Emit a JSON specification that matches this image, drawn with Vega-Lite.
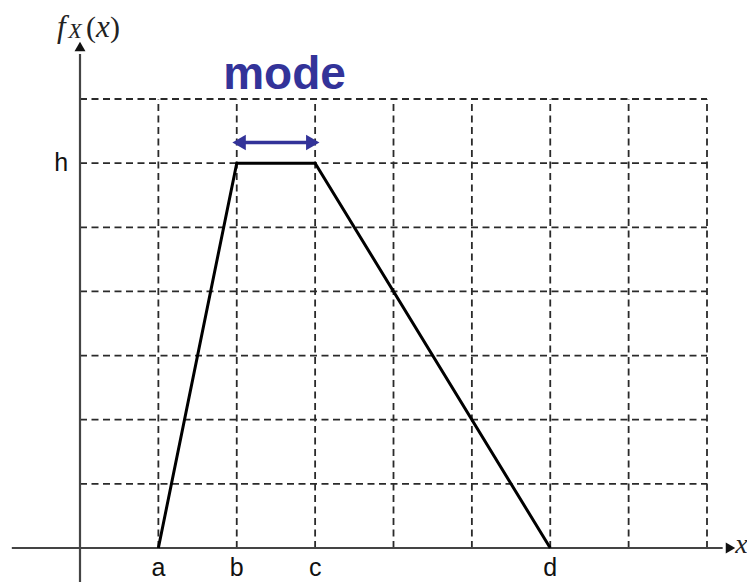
{
  "$schema": "https://vega.github.io/schema/vega-lite/v6.json",
  "width": 627,
  "height": 449,
  "autosize": {"type": "none"},
  "padding": {"left": 80, "top": 99, "right": 40, "bottom": 34},
  "background": "white",
  "config": {"view": {"stroke": null}},
  "datasets": {
    "grid": [
      {"x1": 1, "x2": 1, "y1": 0, "y2": 7},
      {"x1": 2, "x2": 2, "y1": 0, "y2": 7},
      {"x1": 3, "x2": 3, "y1": 0, "y2": 7},
      {"x1": 4, "x2": 4, "y1": 0, "y2": 7},
      {"x1": 5, "x2": 5, "y1": 0, "y2": 7},
      {"x1": 6, "x2": 6, "y1": 0, "y2": 7},
      {"x1": 7, "x2": 7, "y1": 0, "y2": 7},
      {"x1": 8, "x2": 8, "y1": 0, "y2": 7},
      {"x1": 0, "x2": 8, "y1": 1, "y2": 1},
      {"x1": 0, "x2": 8, "y1": 2, "y2": 2},
      {"x1": 0, "x2": 8, "y1": 3, "y2": 3},
      {"x1": 0, "x2": 8, "y1": 4, "y2": 4},
      {"x1": 0, "x2": 8, "y1": 5, "y2": 5},
      {"x1": 0, "x2": 8, "y1": 6, "y2": 6},
      {"x1": 0, "x2": 8, "y1": 7, "y2": 7}
    ],
    "axes": [
      {"x1": -0.87, "x2": 8.2, "y1": 0, "y2": 0},
      {"x1": 0, "x2": 0, "y1": -0.53, "y2": 7.7}
    ],
    "arrowheads": [
      {"x": 8.3, "y": 0, "shape": "triangle-right"},
      {"x": 0, "y": 7.82, "shape": "triangle-up"}
    ],
    "pdf": [
      {"x": 1, "y": 0},
      {"x": 2, "y": 6},
      {"x": 3, "y": 6},
      {"x": 6, "y": 0}
    ],
    "modeline": [
      {"x1": 2.0, "x2": 3.0, "y1": 6.32, "y2": 6.32}
    ],
    "modeheads": [
      {"x": 2.03, "y": 6.32, "shape": "triangle-left"},
      {"x": 2.97, "y": 6.32, "shape": "triangle-right"}
    ],
    "ticks": [
      {"x": 1, "label": "a"},
      {"x": 2, "label": "b"},
      {"x": 3, "label": "c"},
      {"x": 6, "label": "d"}
    ],
    "ylabelItalic": [
      {"x": -0.293, "y": 7.97, "t": "f"},
      {"x": 0.204, "y": 7.97, "t": "x"}
    ],
    "ylabelUpright": [
      {"x": 0.077, "y": 7.97, "t": "("},
      {"x": 0.383, "y": 7.97, "t": ")"}
    ]
  },
  "layer": [
    {
      "data": {"name": "grid"},
      "mark": {"type": "rule", "stroke": "#2a2a2a", "strokeWidth": 1.8, "strokeDash": [7, 4.5]},
      "encoding": {
        "x": {"field": "x1", "type": "quantitative", "scale": {"domain": [0, 8], "nice": false, "zero": false}, "axis": null},
        "x2": {"field": "x2"},
        "y": {"field": "y1", "type": "quantitative", "scale": {"domain": [0, 7], "nice": false, "zero": false}, "axis": null},
        "y2": {"field": "y2"}
      }
    },
    {
      "data": {"name": "axes"},
      "mark": {"type": "rule", "stroke": "#444444", "strokeWidth": 2.2},
      "encoding": {
        "x": {"field": "x1", "type": "quantitative", "axis": null},
        "x2": {"field": "x2"},
        "y": {"field": "y1", "type": "quantitative", "axis": null},
        "y2": {"field": "y2"}
      }
    },
    {
      "data": {"name": "arrowheads"},
      "mark": {"type": "point", "filled": true, "fill": "#111111", "size": 120, "opacity": 1},
      "encoding": {
        "x": {"field": "x", "type": "quantitative", "axis": null},
        "y": {"field": "y", "type": "quantitative", "axis": null},
        "shape": {"field": "shape", "type": "nominal", "scale": null, "legend": null}
      }
    },
    {
      "data": {"name": "pdf"},
      "mark": {"type": "line", "stroke": "#000000", "strokeWidth": 3},
      "encoding": {
        "x": {"field": "x", "type": "quantitative", "axis": null},
        "y": {"field": "y", "type": "quantitative", "axis": null}
      }
    },
    {
      "data": {"name": "modeline"},
      "mark": {"type": "rule", "stroke": "#333399", "strokeWidth": 3.5},
      "encoding": {
        "x": {"field": "x1", "type": "quantitative", "axis": null},
        "x2": {"field": "x2"},
        "y": {"field": "y1", "type": "quantitative", "axis": null}
      }
    },
    {
      "data": {"name": "modeheads"},
      "mark": {"type": "point", "filled": true, "fill": "#333399", "size": 240, "opacity": 1},
      "encoding": {
        "x": {"field": "x", "type": "quantitative", "axis": null},
        "y": {"field": "y", "type": "quantitative", "axis": null},
        "shape": {"field": "shape", "type": "nominal", "scale": null, "legend": null}
      }
    },
    {
      "data": {"values": [{"x": 2.61, "y": 7.16, "t": "mode"}]},
      "mark": {"type": "text", "font": "Liberation Sans", "fontWeight": "bold", "fontSize": 46, "fill": "#333399", "align": "center", "baseline": "alphabetic"},
      "encoding": {
        "x": {"field": "x", "type": "quantitative", "axis": null},
        "y": {"field": "y", "type": "quantitative", "axis": null},
        "text": {"field": "t"}
      }
    },
    {
      "data": {"name": "ticks"},
      "mark": {"type": "text", "font": "Liberation Sans", "fontSize": 25, "fill": "#111111", "align": "center", "baseline": "top", "dy": 8},
      "encoding": {
        "x": {"field": "x", "type": "quantitative", "axis": null},
        "y": {"datum": 0, "type": "quantitative", "axis": null},
        "text": {"field": "label"}
      }
    },
    {
      "data": {"values": [{"x": -0.15, "y": 6, "t": "h"}]},
      "mark": {"type": "text", "font": "Liberation Sans", "fontSize": 25, "fill": "#111111", "align": "right", "baseline": "middle"},
      "encoding": {
        "x": {"field": "x", "type": "quantitative", "axis": null},
        "y": {"field": "y", "type": "quantitative", "axis": null},
        "text": {"field": "t"}
      }
    },
    {
      "data": {"name": "ylabelItalic"},
      "mark": {"type": "text", "font": "Liberation Serif", "fontStyle": "italic", "fontSize": 31, "fill": "#222222", "align": "left", "baseline": "alphabetic"},
      "encoding": {
        "x": {"field": "x", "type": "quantitative", "axis": null},
        "y": {"field": "y", "type": "quantitative", "axis": null},
        "text": {"field": "t"}
      }
    },
    {
      "data": {"name": "ylabelUpright"},
      "mark": {"type": "text", "font": "Liberation Serif", "fontSize": 30, "fill": "#222222", "align": "left", "baseline": "alphabetic"},
      "encoding": {
        "x": {"field": "x", "type": "quantitative", "axis": null},
        "y": {"field": "y", "type": "quantitative", "axis": null},
        "text": {"field": "t"}
      }
    },
    {
      "data": {"values": [{"x": -0.15, "y": 7.95, "t": "X"}]},
      "mark": {"type": "text", "font": "Liberation Serif", "fontStyle": "italic", "fontSize": 22, "fill": "#222222", "align": "left", "baseline": "alphabetic"},
      "encoding": {
        "x": {"field": "x", "type": "quantitative", "axis": null},
        "y": {"field": "y", "type": "quantitative", "axis": null},
        "text": {"field": "t"}
      }
    },
    {
      "data": {"values": [{"x": 8.36, "y": -0.08, "t": "x"}]},
      "mark": {"type": "text", "font": "Liberation Serif", "fontStyle": "italic", "fontSize": 28, "fill": "#222222", "align": "left", "baseline": "alphabetic"},
      "encoding": {
        "x": {"field": "x", "type": "quantitative", "axis": null},
        "y": {"field": "y", "type": "quantitative", "axis": null},
        "text": {"field": "t"}
      }
    }
  ]
}
